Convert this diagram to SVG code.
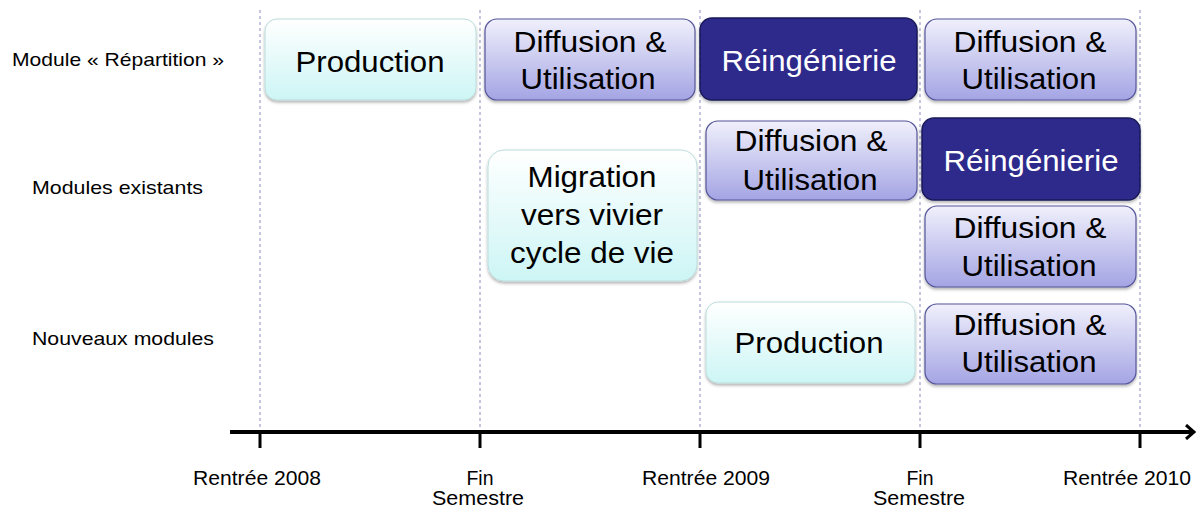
<svg xmlns="http://www.w3.org/2000/svg" width="1198" height="510" viewBox="0 0 1198 510">
<defs>
<linearGradient id="gCyan" x1="0" y1="0" x2="0" y2="1"><stop offset="0" stop-color="#ffffff"/><stop offset="1" stop-color="#cdf5f5"/></linearGradient>
<linearGradient id="gLav" x1="0" y1="0" x2="0" y2="1"><stop offset="0" stop-color="#f0f0fc"/><stop offset="1" stop-color="#a4a4e4"/></linearGradient>
<filter id="sh" x="-10%" y="-10%" width="120%" height="130%"><feDropShadow dx="0" dy="2" stdDeviation="1.5" flood-color="#000" flood-opacity="0.3"/></filter>
<marker id="arr" markerWidth="12" markerHeight="16" refX="10" refY="8" orient="auto" markerUnits="userSpaceOnUse"><path d="M2,1 L10,8 L2,15" fill="none" stroke="#000" stroke-width="3"/></marker>
<style>
.cy{fill:url(#gCyan);stroke:#bcdcdc;stroke-width:1;filter:url(#sh)}
.lv{fill:url(#gLav);stroke:#55559a;stroke-width:1.2;filter:url(#sh)}
.dk{fill:#2e2c8c;stroke:#1a1a5a;stroke-width:1.5;filter:url(#sh)}
.t{font-family:"Liberation Sans",Arial,sans-serif;font-size:30px;fill:#000;text-anchor:middle}
.w{fill:#fff}
.lbl{font-family:"Liberation Sans",Arial,sans-serif;font-size:19px;fill:#000}
.ax{font-family:"Liberation Sans",Arial,sans-serif;font-size:20px;fill:#000;text-anchor:middle}
.grid{stroke:#8c8cc0;stroke-width:1;stroke-dasharray:3,3}
</style>
</defs>
<rect width="1198" height="510" fill="#fff"/>
<g id="grid">
<line class="grid" x1="260" y1="10" x2="260" y2="430"/>
<line class="grid" x1="480" y1="10" x2="480" y2="430"/>
<line class="grid" x1="700" y1="10" x2="700" y2="430"/>
<line class="grid" x1="920" y1="10" x2="920" y2="430"/>
<line class="grid" x1="1140" y1="10" x2="1140" y2="430"/>
</g>
<g id="row-labels">
<text class="lbl" x="12" y="66" textLength="212" lengthAdjust="spacingAndGlyphs">Module « Répartition »</text>
<text class="lbl" x="32" y="194" textLength="171" lengthAdjust="spacingAndGlyphs">Modules existants</text>
<text class="lbl" x="32" y="345" textLength="182" lengthAdjust="spacingAndGlyphs">Nouveaux modules</text>
</g>
<g id="axis">
<line x1="230" y1="432" x2="1194" y2="432" stroke="#000" stroke-width="4" marker-end="url(#arr)"/>
<g stroke="#000" stroke-width="3">
<line x1="260" y1="432" x2="260" y2="448"/>
<line x1="480" y1="432" x2="480" y2="448"/>
<line x1="700" y1="432" x2="700" y2="448"/>
<line x1="920" y1="432" x2="920" y2="448"/>
<line x1="1140" y1="432" x2="1140" y2="448"/>
</g>
<text class="ax" x="257" y="485" textLength="128" lengthAdjust="spacingAndGlyphs">Rentrée 2008</text>
<text class="ax" x="480" y="485" textLength="27" lengthAdjust="spacingAndGlyphs">Fin</text>
<text class="ax" x="478" y="505" textLength="92" lengthAdjust="spacingAndGlyphs">Semestre</text>
<text class="ax" x="706" y="485" textLength="128" lengthAdjust="spacingAndGlyphs">Rentrée 2009</text>
<text class="ax" x="920" y="485" textLength="27" lengthAdjust="spacingAndGlyphs">Fin</text>
<text class="ax" x="919" y="505" textLength="92" lengthAdjust="spacingAndGlyphs">Semestre</text>
<text class="ax" x="1127" y="485" textLength="128" lengthAdjust="spacingAndGlyphs">Rentrée 2010</text>
</g>
<g id="n1">
<rect class="cy" x="265" y="19" width="211" height="81" rx="12"/>
<text class="t" x="370" y="72" textLength="149" lengthAdjust="spacingAndGlyphs">Production</text>
</g>
<g id="n2">
<rect class="lv" x="485" y="19" width="210" height="81" rx="12"/>
<text class="t" x="590" y="52" textLength="153" lengthAdjust="spacingAndGlyphs">Diffusion &amp;</text>
<text class="t" x="588" y="89" textLength="135" lengthAdjust="spacingAndGlyphs">Utilisation</text>
</g>
<g id="n3">
<rect class="dk" x="700" y="18" width="217" height="82" rx="12"/>
<text class="t w" x="809" y="71" textLength="175" lengthAdjust="spacingAndGlyphs">Réingénierie</text>
</g>
<g id="n4">
<rect class="lv" x="925" y="19" width="211" height="81" rx="12"/>
<text class="t" x="1030" y="52" textLength="153" lengthAdjust="spacingAndGlyphs">Diffusion &amp;</text>
<text class="t" x="1029" y="89" textLength="135" lengthAdjust="spacingAndGlyphs">Utilisation</text>
</g>
<g id="n5">
<rect class="cy" x="488" y="150" width="209" height="131" rx="16"/>
<text class="t" x="592" y="187" textLength="129" lengthAdjust="spacingAndGlyphs">Migration</text>
<text class="t" x="592" y="225" textLength="142" lengthAdjust="spacingAndGlyphs">vers vivier</text>
<text class="t" x="592" y="263" textLength="164" lengthAdjust="spacingAndGlyphs">cycle de vie</text>
</g>
<g id="n6">
<rect class="lv" x="706" y="121" width="211" height="79" rx="12"/>
<text class="t" x="811" y="151" textLength="153" lengthAdjust="spacingAndGlyphs">Diffusion &amp;</text>
<text class="t" x="810" y="190" textLength="135" lengthAdjust="spacingAndGlyphs">Utilisation</text>
</g>
<g id="n7">
<rect class="dk" x="922" y="118" width="218" height="82" rx="12"/>
<text class="t w" x="1031" y="171" textLength="175" lengthAdjust="spacingAndGlyphs">Réingénierie</text>
</g>
<g id="n8">
<rect class="lv" x="925" y="206" width="211" height="81" rx="12"/>
<text class="t" x="1030" y="238" textLength="153" lengthAdjust="spacingAndGlyphs">Diffusion &amp;</text>
<text class="t" x="1029" y="276" textLength="135" lengthAdjust="spacingAndGlyphs">Utilisation</text>
</g>
<g id="n9">
<rect class="cy" x="706" y="302" width="209" height="81" rx="12"/>
<text class="t" x="809" y="353" textLength="149" lengthAdjust="spacingAndGlyphs">Production</text>
</g>
<g id="n10">
<rect class="lv" x="925" y="304" width="211" height="80" rx="12"/>
<text class="t" x="1030" y="335" textLength="153" lengthAdjust="spacingAndGlyphs">Diffusion &amp;</text>
<text class="t" x="1029" y="372" textLength="135" lengthAdjust="spacingAndGlyphs">Utilisation</text>
</g>
</svg>
